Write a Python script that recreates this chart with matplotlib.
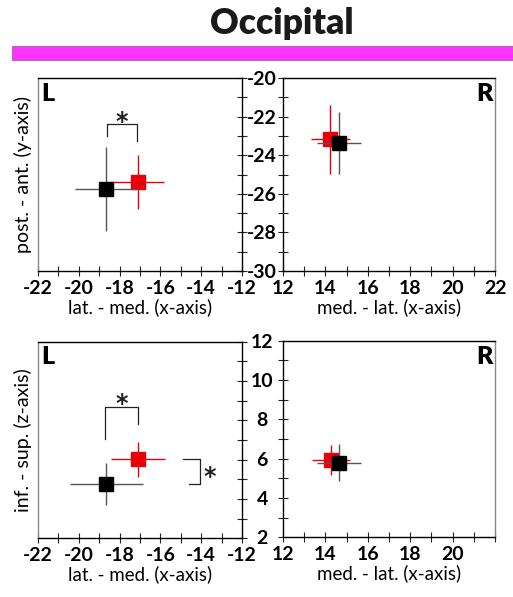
import matplotlib
matplotlib.use("Agg")
import matplotlib.pyplot as plt
from matplotlib.patches import Rectangle
from matplotlib.ticker import MultipleLocator

plt.rcParams['font.family'] = ['Lato', 'DejaVu Sans']

# ---- data (red series first, black second) ----
series_colors = ['#e8000b', '#000000']
err_colors = ['#e8000b', '#555555']

top_L_x = [-17.1, -18.65]
top_L_y = [-25.4, -25.75]
top_L_xerr = [1.3, 1.55]
top_L_yerr = [1.4, 2.2]

top_R_x = [14.22, 14.65]
top_R_y = [-23.18, -23.35]
top_R_xerr = [0.92, 1.03]
top_R_yerr = [1.77, 1.6]

bot_L_x = [-17.1, -18.65]
bot_L_z = [6.02, 4.76]
bot_L_xerr = [1.34, 1.8]
bot_L_zerr = [0.89, 1.07]

bot_R_x = [14.25, 14.64]
bot_R_z = [5.93, 5.79]
bot_R_xerr = [0.9, 1.05]
bot_R_zerr = [0.78, 0.95]

xticks_L = [-22, -20, -18, -16, -14, -12]
xticks_R_top = [12, 14, 16, 18, 20, 22]
xticks_R_bot = [12, 14, 16, 18, 20]
yticks_top = [-20, -22, -24, -26, -28, -30]
zticks_bot = [2, 4, 6, 8, 10, 12]

fig = plt.figure(figsize=(5.13, 5.97), dpi=100)
W, H = 513, 597

def axes_px(l, t, r, b):
    return fig.add_axes([l / W, 1 - b / H, (r - l) / W, (b - t) / H])

ax_tl = axes_px(38, 78, 242, 271)
ax_tr = axes_px(283, 78, 495, 271)
ax_bl = axes_px(38, 341.5, 242, 538.3)
ax_br = axes_px(283, 340.7, 495, 537.3)

TFS = 14
tickfont = dict(fontsize=TFS, fontweight='bold')
LFS = 13.5

def draw(ax, xs, ys, xe, ye):
    for i in range(len(xs)):
        ax.errorbar(xs[i], ys[i], xerr=xe[i], yerr=ye[i], fmt='s',
                    color=series_colors[i], ecolor=err_colors[i],
                    markersize=9.5, elinewidth=1.0, capsize=0, zorder=3 + i)

def style_common(ax):
    for s in ax.spines.values():
        s.set_linewidth(1.0)
    ax.xaxis.set_minor_locator(MultipleLocator(1))
    ax.yaxis.set_minor_locator(MultipleLocator(1))
    ax.tick_params(axis='both', which='both', direction='inout', length=7,
                   width=0.8, color='#222222')
    ax.tick_params(axis='x', which='major', pad=3, labelsize=TFS)

# left panels
for ax in (ax_tl, ax_bl):
    style_common(ax)
    ax.set_xlim(-22, -12)
    ax.set_xticks(xticks_L)
    ax.set_xticklabels([str(v) for v in xticks_L], **tickfont)
    ax.yaxis.tick_right()
    ax.tick_params(axis='y', which='both', labelright=False, labelleft=False)
    ax.spines['left'].set_color('#888888')

# right panels
for ax in (ax_tr, ax_br):
    style_common(ax)
    ax.set_xlim(12, 22)
    ax.yaxis.tick_left()
    ax.spines['right'].set_color('#888888')

ax_tr.set_xticks(xticks_R_top)
ax_tr.set_xticklabels([str(v) for v in xticks_R_top], **tickfont)
ax_br.set_xticks(xticks_R_bot)
ax_br.set_xticklabels([str(v) for v in xticks_R_bot], **tickfont)

for ax in (ax_tl, ax_tr):
    ax.set_ylim(-30, -20)
    ax.set_yticks(yticks_top)
for ax in (ax_bl, ax_br):
    ax.set_ylim(2, 12)
    ax.set_yticks(zticks_bot)

ax_tr.set_yticklabels([str(v) for v in yticks_top], **tickfont)
ax_br.set_yticklabels([str(v) for v in zticks_bot], **tickfont)
for ax in (ax_tr, ax_br):
    ax.tick_params(axis='y', which='major', pad=11.5)
    for lab in ax.get_yticklabels():
        lab.set_horizontalalignment('center')

draw(ax_tl, top_L_x, top_L_y, top_L_xerr, top_L_yerr)
draw(ax_tr, top_R_x, top_R_y, top_R_xerr, top_R_yerr)
draw(ax_bl, bot_L_x, bot_L_z, bot_L_xerr, bot_L_zerr)
draw(ax_br, bot_R_x, bot_R_z, bot_R_xerr, bot_R_zerr)

# labels
ax_tl.set_xlabel('lat. - med. (x-axis)', fontsize=LFS, labelpad=1)
ax_bl.set_xlabel('lat. - med. (x-axis)', fontsize=LFS, labelpad=1)
ax_tr.set_xlabel('med. - lat. (x-axis)', fontsize=LFS, labelpad=1)
ax_br.set_xlabel('med. - lat. (x-axis)', fontsize=LFS, labelpad=1)
ax_tl.set_ylabel('post. - ant. (y-axis)', fontsize=LFS + 0.5, labelpad=4)
ax_bl.set_ylabel('inf. - sup. (z-axis)', fontsize=LFS + 0.5, labelpad=4)

for ax in (ax_tl, ax_bl):
    ax.text(0.015, 0.975, 'L', transform=ax.transAxes, fontsize=18,
            fontweight='heavy', ha='left', va='top')
for ax in (ax_tr, ax_br):
    ax.text(0.99, 0.975, 'R', transform=ax.transAxes, fontsize=18,
            fontweight='heavy', ha='right', va='top')

# significance brackets
bk = dict(color='#222222', lw=0.9)
star = dict(fontsize=17, fontweight='bold', ha='center', va='center',
            color='#222222', family='DejaVu Sans')
ax_tl.plot([-18.63, -18.63, -17.15, -17.15], [-23.0, -22.4, -22.4, -23.26], **bk)
ax_tl.text(-17.9, -22.3, '*', **star)

ax_bl.plot([-18.7, -18.7, -17.1, -17.1], [7.03, 8.66, 8.66, 7.81], **bk)
ax_bl.text(-17.9, 8.8, '*', **star)
ax_bl.plot([-14.9, -14.06, -14.06, -14.6], [6.02, 6.02, 4.76, 4.76], **bk)
ax_bl.text(-13.6, 5.1, '*', **star)

# title and magenta bar
fig.text(282 / W, 1 - 24 / H, 'Occipital', fontsize=25.5, fontweight='heavy',
         ha='center', va='center', color='#1a1a1a')
fig.patches.append(Rectangle((12 / W, 1 - 60 / H), 1 - 12 / W, 14.5 / H,
                             transform=fig.transFigure, facecolor='#ff33ff',
                             edgecolor='#996699', linewidth=0.6))

fig.savefig('out.png', dpi=100)
